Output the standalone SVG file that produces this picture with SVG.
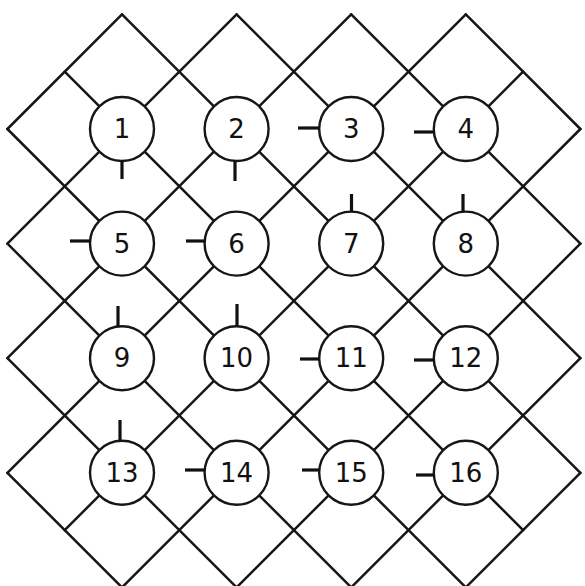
<svg xmlns="http://www.w3.org/2000/svg" width="585" height="586" viewBox="0 0 585 586">
<style>
.ln{stroke:#161616;stroke-width:2.5;fill:none;stroke-linecap:round}
.nd circle{fill:#fff;stroke:#161616;stroke-width:2.4}
.nd text{font-family:"DejaVu Sans","Liberation Sans",sans-serif;font-size:26px;fill:#111;text-anchor:middle;dominant-baseline:central}
.tk{stroke:#111;stroke-width:3.2;stroke-linecap:butt}
</style>
<rect width="585" height="586" fill="#fff"/>
<g id="connectors" class="ln">
<path d="M7.4,129 L122,14.4 M7.4,243.6 L236.6,14.4 M7.4,358.2 L351.2,14.4 M7.4,472.8 L465.8,14.4 M64.7,530.1 L523.1,71.7 M122,587.4 L580.4,129 M236.6,587.4 L580.4,243.6 M351.2,587.4 L580.4,358.2 M465.8,587.4 L580.4,472.8"/>
<path d="M7.4,472.8 L122,587.4 M7.4,358.2 L236.6,587.4 M7.4,243.6 L351.2,587.4 M7.4,129 L465.8,587.4 M64.7,71.7 L523.1,530.1 M122,14.4 L580.4,472.8 M236.6,14.4 L580.4,358.2 M351.2,14.4 L580.4,243.6 M465.8,14.4 L580.4,129"/>
</g>
<g id="n1" class="nd"><circle cx="122" cy="129" r="32"/><text x="122" y="129">1</text><line class="tk" x1="122" y1="161" x2="122" y2="179"/></g>
<g id="n2" class="nd"><circle cx="236.6" cy="129" r="32"/><text x="236.6" y="129">2</text><line class="tk" x1="235" y1="161" x2="235" y2="181"/></g>
<g id="n3" class="nd"><circle cx="351.2" cy="129" r="32"/><text x="351.2" y="129">3</text><line class="tk" x1="298" y1="128" x2="319.2" y2="128"/></g>
<g id="n4" class="nd"><circle cx="465.8" cy="129" r="32"/><text x="465.8" y="129">4</text><line class="tk" x1="414" y1="132" x2="434" y2="132"/></g>
<g id="n5" class="nd"><circle cx="122" cy="243.6" r="32"/><text x="122" y="243.6">5</text><line class="tk" x1="70" y1="241" x2="90" y2="241"/></g>
<g id="n6" class="nd"><circle cx="236.6" cy="243.6" r="32"/><text x="236.6" y="243.6">6</text><line class="tk" x1="186" y1="241" x2="205" y2="241"/></g>
<g id="n7" class="nd"><circle cx="351.2" cy="243.6" r="32"/><text x="351.2" y="243.6">7</text><line class="tk" x1="351.5" y1="194" x2="351.5" y2="211.6"/></g>
<g id="n8" class="nd"><circle cx="465.8" cy="243.6" r="32"/><text x="465.8" y="243.6">8</text><line class="tk" x1="463" y1="194" x2="463" y2="211.6"/></g>
<g id="n9" class="nd"><circle cx="122" cy="358.2" r="32"/><text x="122" y="358.2">9</text><line class="tk" x1="118" y1="306" x2="118" y2="326.2"/></g>
<g id="n10" class="nd"><circle cx="236.6" cy="358.2" r="32"/><text x="236.6" y="358.2">10</text><line class="tk" x1="237" y1="304" x2="237" y2="326.2"/></g>
<g id="n11" class="nd"><circle cx="351.2" cy="358.2" r="32"/><text x="351.2" y="358.2">11</text><line class="tk" x1="300" y1="359" x2="319.2" y2="359"/></g>
<g id="n12" class="nd"><circle cx="465.8" cy="358.2" r="32"/><text x="465.8" y="358.2">12</text><line class="tk" x1="414" y1="360" x2="433.8" y2="360"/></g>
<g id="n13" class="nd"><circle cx="122" cy="472.8" r="32"/><text x="122" y="472.8">13</text><line class="tk" x1="120" y1="420" x2="120" y2="440.8"/></g>
<g id="n14" class="nd"><circle cx="236.6" cy="472.8" r="32"/><text x="236.6" y="472.8">14</text><line class="tk" x1="185" y1="470" x2="204.6" y2="470"/></g>
<g id="n15" class="nd"><circle cx="351.2" cy="472.8" r="32"/><text x="351.2" y="472.8">15</text><line class="tk" x1="302" y1="470" x2="319.2" y2="470"/></g>
<g id="n16" class="nd"><circle cx="465.8" cy="472.8" r="32"/><text x="465.8" y="472.8">16</text><line class="tk" x1="416" y1="475" x2="434" y2="475"/></g>
</svg>
